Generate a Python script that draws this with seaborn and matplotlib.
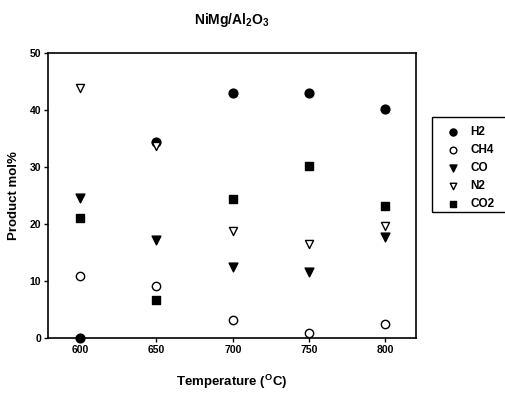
import matplotlib
matplotlib.use('Agg')
import matplotlib.pyplot as plt
from matplotlib.patches import Rectangle
import seaborn as sns
import pandas as pd

temperature = [600, 650, 700, 750, 800]
h2 = [0.0, 34.3, 42.9, 43.0, 40.2]
ch4 = [10.8, 9.1, 3.1, 0.8, 2.3]
co = [24.5, 17.2, 12.4, 11.6, 17.6]
n2 = [43.9, 33.6, 18.8, 16.4, 19.6]
co2 = [21.1, 6.6, 24.4, 30.2, 23.1]

series = ['H2', 'CH4', 'CO', 'N2', 'CO2']
markers = {'H2': 'o', 'CH4': 'o', 'CO': 'v', 'N2': 'v', 'CO2': 's'}
filled = {'H2': True, 'CH4': False, 'CO': True, 'N2': False, 'CO2': True}
sizes = {'H2': 40, 'CH4': 36, 'CO': 40, 'N2': 34, 'CO2': 30}


def main():
	df = pd.DataFrame({'temperature': temperature, 'H2': h2, 'CH4': ch4,
					   'CO': co, 'N2': n2, 'CO2': co2})
	df = df.melt(id_vars='temperature', var_name='gas', value_name='mol')

	sns.set_theme(style='ticks')
	plt.rcParams['font.family'] = ['Liberation Sans', 'DejaVu Sans']
	plt.rcParams['font.weight'] = 'bold'
	plt.rcParams['text.color'] = 'black'
	plt.rcParams['axes.labelcolor'] = 'black'
	plt.rcParams['xtick.color'] = 'black'
	plt.rcParams['ytick.color'] = 'black'
	plt.rcParams['mathtext.fontset'] = 'custom'
	plt.rcParams['mathtext.rm'] = 'Liberation Sans:bold'
	plt.rcParams['mathtext.it'] = 'Liberation Sans:bold'
	plt.rcParams['mathtext.bf'] = 'Liberation Sans:bold'

	fig = plt.figure(figsize=(5.06, 3.93), dpi=100)
	ax = fig.add_axes([0.095, 0.141, 0.727, 0.724])

	for gas in series:
		sub = df[df['gas'] == gas]
		sns.scatterplot(data=sub, x='temperature', y='mol', ax=ax,
						marker=markers[gas], s=sizes[gas], linewidth=1.0,
						facecolor='black' if filled[gas] else 'white',
						edgecolor='black', label=gas, clip_on=False, zorder=3)

	ax.set_xlim(579, 820)
	ax.set_ylim(0, 50)
	ax.set_xticks(temperature)
	ax.set_yticks(range(0, 51, 10))
	ax.tick_params(direction='out', length=3, width=1, labelsize=7.5, pad=2)
	for lab in ax.get_xticklabels() + ax.get_yticklabels():
		lab.set_fontweight('bold')
	for sp in ax.spines.values():
		sp.set_visible(True)
		sp.set_color('black')
		sp.set_linewidth(1.2)

	ax.set_xlabel('Temperature ($^{\\mathregular{O}}$C)', fontsize=9.5, fontweight='bold', labelpad=13)
	ax.set_ylabel('Product mol%', fontsize=9.5, fontweight='bold', labelpad=7)
	fig.text(0.458, 0.948, 'NiMg/Al$_2$O$_3$', ha='center', va='center',
			 fontsize=10, fontweight='bold')

	# legend without its own frame; the box runs off the right edge like the scan
	leg = ax.legend(loc='upper left', bbox_to_anchor=(447 / 506, 1 - 126 / 393),
					bbox_transform=fig.transFigure, frameon=False,
					handletextpad=1.0, labelspacing=0.5, borderpad=0,
					borderaxespad=0, handlelength=1.0, markerscale=0.8,
					prop={'weight': 'bold', 'size': 8.5})
	fig.patches.append(Rectangle((432 / 506, 1 - 212 / 393), 0.2, 95 / 393,
								 transform=fig.transFigure, fill=False,
								 edgecolor='black', linewidth=1.0))

	fig.savefig('out.png', dpi=100)


if __name__ == '__main__':
	main()
